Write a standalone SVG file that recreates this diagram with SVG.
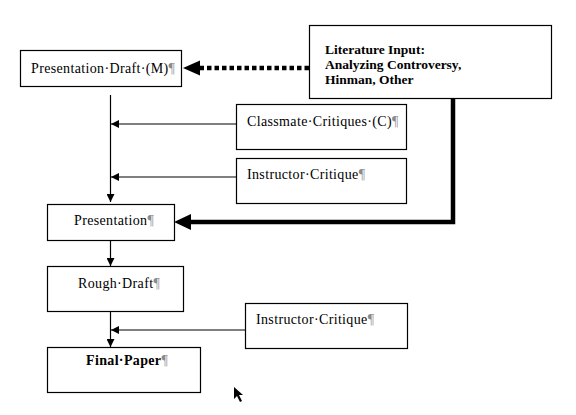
<svg xmlns="http://www.w3.org/2000/svg" width="576" height="415" viewBox="0 0 576 415">
<style>
.box{fill:#fff;stroke:#000;stroke-width:1.2}
.t{font-family:"Liberation Serif","Times New Roman",serif;font-size:14px;letter-spacing:0.35px;fill:#000}
.b{font-weight:bold}
.lit{font-family:"Liberation Serif","Times New Roman",serif;font-size:13.5px;font-weight:bold;fill:#000}
.p{fill:#8a8a8a;font-weight:normal}
.ln{stroke:#000;stroke-width:1.2;fill:none}
</style>
<defs>
<marker id="ah" viewBox="0 0 10 10" refX="10" refY="5" markerWidth="8" markerHeight="8" markerUnits="userSpaceOnUse" orient="auto">
<path d="M0,0 L10,5 L0,10 z" fill="#000"/>
</marker>
</defs>
<rect width="576" height="415" fill="#fff"/>
<g id="connectors">
<path class="ln" d="M110.5,95 V202" marker-end="url(#ah)"/>
<path class="ln" d="M236,124 H111" marker-end="url(#ah)"/>
<path class="ln" d="M236,177 H111" marker-end="url(#ah)"/>
<path class="ln" d="M110.5,240 V266" marker-end="url(#ah)"/>
<path class="ln" d="M110.5,312 V347" marker-end="url(#ah)"/>
<path class="ln" d="M245,330 H111" marker-end="url(#ah)"/>
<path d="M309,68 H200" stroke="#000" stroke-width="4.5" stroke-dasharray="4.5,3" fill="none"/>
<path d="M183,68 L200,60.5 L200,75.5 z" fill="#000"/>
<path d="M453,99 V222 H188" stroke="#000" stroke-width="4.5" fill="none"/>
<path d="M174,222 L191,214 L191,230 z" fill="#000"/>
</g>
<g id="presentation-draft">
<rect class="box" x="20.5" y="50.5" width="161" height="36"/>
<text class="t" x="31" y="73">Presentation·Draft·(M)<tspan class="p">¶</tspan></text>
</g>
<g id="literature-input">
<rect class="box" x="309.5" y="25.5" width="242" height="73"/>
<text class="lit" x="325" y="54">Literature Input:</text>
<text class="lit" x="325" y="69">Analyzing Controversy,</text>
<text class="lit" x="325" y="84">Hinman, Other</text>
</g>
<g id="classmate-critiques">
<rect class="box" x="236.5" y="104.5" width="170" height="45"/>
<text class="t" x="247" y="126">Classmate·Critiques·(C)<tspan class="p">¶</tspan></text>
</g>
<g id="instructor-critique-1">
<rect class="box" x="236.5" y="158.5" width="170" height="45"/>
<text class="t" x="247" y="179">Instructor·Critique<tspan class="p">¶</tspan></text>
</g>
<g id="presentation">
<rect class="box" x="47.5" y="204.5" width="127" height="36"/>
<text class="t" x="74" y="225">Presentation<tspan class="p">¶</tspan></text>
</g>
<g id="rough-draft">
<rect class="box" x="47.5" y="266.5" width="136" height="45"/>
<text class="t" x="78" y="288">Rough·Draft<tspan class="p">¶</tspan></text>
</g>
<g id="instructor-critique-2">
<rect class="box" x="245.5" y="303.5" width="162" height="45"/>
<text class="t" x="256" y="324">Instructor·Critique<tspan class="p">¶</tspan></text>
</g>
<g id="final-paper">
<rect class="box" x="47.5" y="347.5" width="153" height="45"/>
<text class="t b" x="86" y="365">Final·Paper<tspan class="p">¶</tspan></text>
</g>
<path d="M234,387 L234,399 L237,396 L240,402 L242,401 L239,395 L243,395 z" fill="#000"/>
</svg>
